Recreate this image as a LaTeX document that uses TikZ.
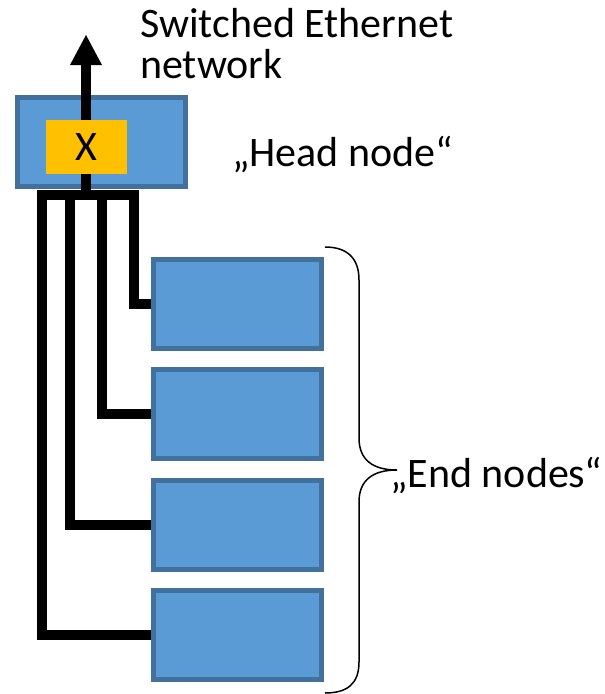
\documentclass[tikz,border=0pt]{standalone}
\usepackage{fontspec}
\setmainfont{Carlito}
\usetikzlibrary{arrows.meta}
\definecolor{boxfill}{HTML}{5B9BD5}
\definecolor{boxline}{HTML}{41719C}
\definecolor{swfill}{HTML}{FFC000}
\begin{document}
\begin{tikzpicture}[x=1pt,y=-1pt,
  unit/.style={draw=boxline,fill=boxfill,line width=5pt,inner sep=0pt,
    minimum width=168pt,minimum height=89pt},
  switchbox/.style={fill=swfill,inner sep=0pt,minimum width=81pt,minimum height=54pt,
    font=\fontsize{42}{41}\selectfont},
  wire/.style={line width=10pt,line join=miter},
  label/.style={font=\fontsize{42}{41}\selectfont,inner sep=0pt}]
\useasboundingbox (0,0) rectangle (605,694);
% head node
\node[unit] (head) at (101.5,142) {};
% end nodes
\node[unit] (e1) at (237.5,304) {};
\node[unit] (e2) at (237.5,414.3) {};
\node[unit] (e3) at (237.5,524.7) {};
\node[unit] (e4) at (237.5,635) {};
% connectors
\coordinate (hub) at (86,195);
\coordinate (b1) at (42,195);
\coordinate (b2) at (70,195);
\coordinate (b3) at (102,195);
\coordinate (b4) at (133.5,195);
\coordinate (tip) at (86,35);
\draw[wire] (86,174) -- (hub) -- (b4) |- (e1.west);
\draw[wire] (hub) -- (b3) |- (e2.west);
\draw[wire] (hub) -- (b2) |- (e3.west);
\draw[wire] (hub) -- (b1) |- (e4.west);
\draw[wire,-{Triangle[width=32pt,length=30pt,line width=0pt]}] (86,150) -- (tip);
% switch
\node[switchbox] (sw) at (86.5,147) {X};
% brace
\draw[line width=1.5pt] (325,247) .. controls (347,247) and (359,258) .. (359,280)
  -- (359,438) .. controls (359,460) and (373,470) .. (397,470)
  .. controls (373,470) and (359,480) .. (359,502)
  -- (359,662) .. controls (359,684) and (347,693) .. (325,693);
% labels
\node[label,anchor=base west,align=left] (net) at (140,78) {Switched Ethernet\\network};
\node[label,anchor=base west] (headlbl) at (232,166) {„Head node“};
\node[label,anchor=base west] (endlbl) at (390,487) {„End nodes“};
\end{tikzpicture}
\end{document}
